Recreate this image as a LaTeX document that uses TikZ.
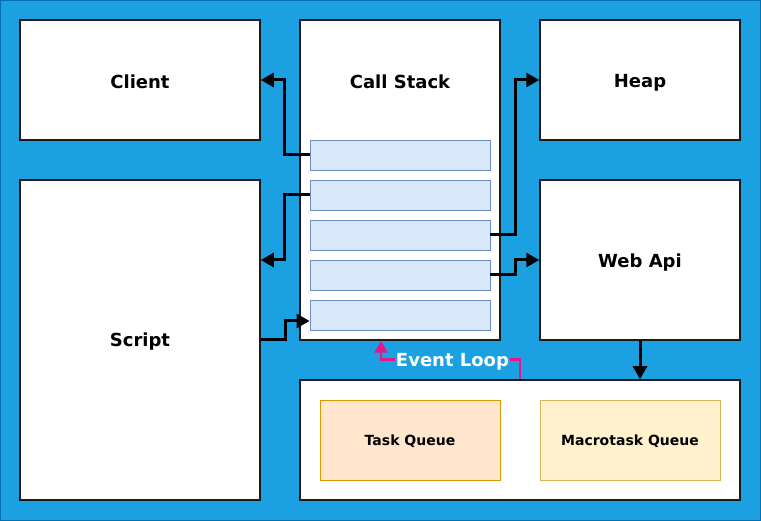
\documentclass[tikz,border=0pt]{standalone}
\usepackage{fontspec}
\setmainfont{DejaVu Sans}
\usetikzlibrary{arrows.meta,calc}
\definecolor{bgblue}{HTML}{1BA1E2}
\definecolor{bgedge}{HTML}{006EAF}
\definecolor{itemfill}{HTML}{DAE8FC}
\definecolor{itemdraw}{HTML}{6C8EBF}
\definecolor{taskfill}{HTML}{FFE6CC}
\definecolor{taskdraw}{HTML}{D79B00}
\definecolor{macrofill}{HTML}{FFF2CC}
\definecolor{macrodraw}{HTML}{D6B656}
\definecolor{loopcol}{HTML}{E6178A}
\definecolor{boxdraw}{HTML}{1A1A1A}
\tikzset{
  mainbox/.style={draw=boxdraw, line width=1.5pt, fill=white, inner sep=0pt},
  titletext/.style={font=\fontsize{18}{22}\selectfont\bfseries, inner sep=0pt},
  smalltext/.style={font=\fontsize{14}{17}\selectfont\bfseries, inner sep=0pt},
  stackitem/.style={draw=itemdraw, line width=0.9pt, fill=itemfill, minimum width=180pt, minimum height=30pt, inner sep=0pt},
  conn/.style={line width=3pt, black, -{Triangle[length=13pt,width=14pt]}},
  loopconn/.style={line width=2.8pt, loopcol, -{Triangle[length=12pt,width=13pt]}}
}
\begin{document}
\begin{tikzpicture}[x=1pt,y=-1pt]
\useasboundingbox (0,0) rectangle (761,521);
\fill[bgblue] (0,0) rectangle (761,521);
\draw[bgedge, line width=1pt] (0.5,0.5) rectangle (760.5,520.5);

\node[mainbox, minimum width=240pt, minimum height=120pt] (client) at (140,80) {};
\node[titletext] (clienttitle) at (140,82) {Client};

\node[mainbox, minimum width=200pt, minimum height=320pt] (cs) at (400,180) {};
\node[titletext] (cstitle) at (400,82) {Call Stack};

\node[mainbox, minimum width=200pt, minimum height=120pt] (heap) at (640,80) {};
\node[titletext] (heaptitle) at (640,82.5) {Heap};

\node[mainbox, minimum width=240pt, minimum height=320pt] (script) at (140,340) {};
\node[titletext] (scripttitle) at (140,342) {Script};

\node[mainbox, minimum width=200pt, minimum height=160pt] (webapi) at (640,260) {};
\node[titletext] (webapititle) at (640,262.5) {Web Api};

\node[mainbox, minimum width=440pt, minimum height=120pt] (queues) at (520,440) {};
\node[draw=taskdraw, line width=0.9pt, fill=taskfill, minimum width=180pt, minimum height=80pt] (task) at (410,440) {};
\node[smalltext] (tasktitle) at (410,441.5) {Task Queue};
\node[draw=macrodraw, line width=0.9pt, fill=macrofill, minimum width=180pt, minimum height=80pt] (macro) at (630,440) {};
\node[smalltext] (macrotitle) at (630,441.5) {Macrotask Queue};

\node[stackitem] (i1) at (400,155) {};
\node[stackitem] (i2) at (400,195) {};
\node[stackitem] (i3) at (400,235) {};
\node[stackitem] (i4) at (400,275) {};
\node[stackitem] (i5) at (400,315) {};

\draw[conn] (i1.west) -- ++(-25,0) |- (client.east);
\draw[conn] (i2.west) -- ++(-25,0) |- ($(script.east)+(0,-80)$);
\draw[conn] (script.east) -- ++(25,0) |- ($(i5.west)+(0,6)$);
\draw[conn] (i3.east) -- ++(25,0) |- (heap.west);
\draw[conn] (i4.east) -- ++(25,0) |- (webapi.west);
\draw[conn] (webapi.south) -- (webapi.south |- queues.north);

\draw[loopconn] (queues.north) -- ++(0,-20) -| ($(cs.south)+(-19,0)$);
\node[fill=bgblue, inner sep=1pt, font=\fontsize{18}{22}\selectfont\bfseries, text=white] (looplabel) at (452.5,362) {Event Loop};
\end{tikzpicture}
\end{document}
